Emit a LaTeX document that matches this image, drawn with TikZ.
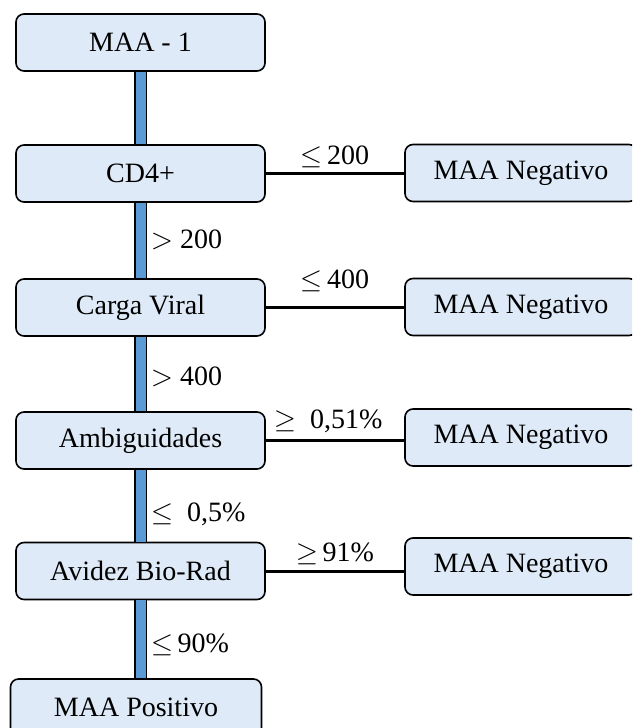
\documentclass[tikz,border=0pt]{standalone}
\usepackage{fontspec}
\setmainfont{Liberation Serif}
\newfontfamily\relfont{Latin Modern Math}
\newcommand\rle{{\relfont ≤}}
\newcommand\rge{{\relfont ≥}}
\newcommand\rgt{{\relfont >}}
\definecolor{boxfill}{HTML}{DEEAF7}
\definecolor{barblue}{HTML}{5B9BD5}
\tikzset{
  stepbox/.style={draw=black, line width=1.6pt, fill=boxfill, rounded corners=8pt,
    minimum width=249pt, minimum height=57pt, inner sep=0pt,
    font=\fontsize{28}{32}\selectfont},
  endbox/.style={stepbox, minimum width=232pt},
  trunk/.style={draw=black, line width=1.5pt, double=barblue, double distance=10pt},
  branch/.style={draw=black, line width=3pt},
  cond/.style={font=\fontsize{28}{32}\selectfont, inner sep=0pt},
  vcond/.style={cond, midway, anchor=base west, xshift=10pt},
  hcond/.style={cond, midway, anchor=base}
}
\begin{document}
\begin{tikzpicture}[x=1pt, y=1pt]
\path[use as bounding box, clip] (0,0) rectangle (632,-728);

% main sequence of tests
\node[stepbox] (maa)  at (140.5,-42.5)  {MAA - 1};
\node[stepbox] (cd4)  at (140.5,-173.5) {CD4+};
\node[stepbox] (cv)   at (140.5,-307.5) {Carga Viral};
\node[stepbox] (amb)  at (140.5,-440.5) {Ambiguidades};
\node[stepbox] (avi)  at (140.5,-571)   {Avidez Bio-Rad};
\node[stepbox, minimum width=251pt] (pos) at (136,-707.5) {MAA Positivo};

% negative outcomes
\node[endbox] (neg1) at (521,-173)   {MAA Negativo};
\node[endbox] (neg2) at (521,-307)   {MAA Negativo};
\node[endbox] (neg3) at (521,-437.5) {MAA Negativo};
\node[endbox] (neg4) at (521,-566.5) {MAA Negativo};

% vertical trunk
\draw[trunk] (maa.south) -- (cd4.north);
\draw[trunk] (cd4.south) -- node[vcond, yshift=-7.5pt] {\rgt{} 200} (cv.north);
\draw[trunk] (cv.south) -- node[vcond, yshift=-11pt] {\rgt{} 400} (amb.north);
\draw[trunk] (amb.south) -- node[vcond, yshift=-15.5pt] {\rle\ \ 0,5\%} (avi.north);
\draw[trunk] (avi.south) -- node[vcond, yshift=-13pt] {\rle\,90\%} (avi.south |- pos.north);

% branches to the negative outcomes
\draw[branch] (cd4.east) -- node[hcond, yshift=9.5pt] {\rle\,200} (neg1.west |- cd4.east);
\draw[branch] (cv.east) -- node[hcond, yshift=19.5pt] {\rle\,400} (neg2.west |- cv.east);
\draw[branch] (amb.east) -- node[hcond, yshift=12.5pt, xshift=-6.5pt] {\rge\ \ 0,51\%} (neg3.west |- amb.east);
\draw[branch] (avi.east) -- node[hcond, yshift=10pt] {\rge\,91\%} (neg4.west |- avi.east);
\end{tikzpicture}
\end{document}
